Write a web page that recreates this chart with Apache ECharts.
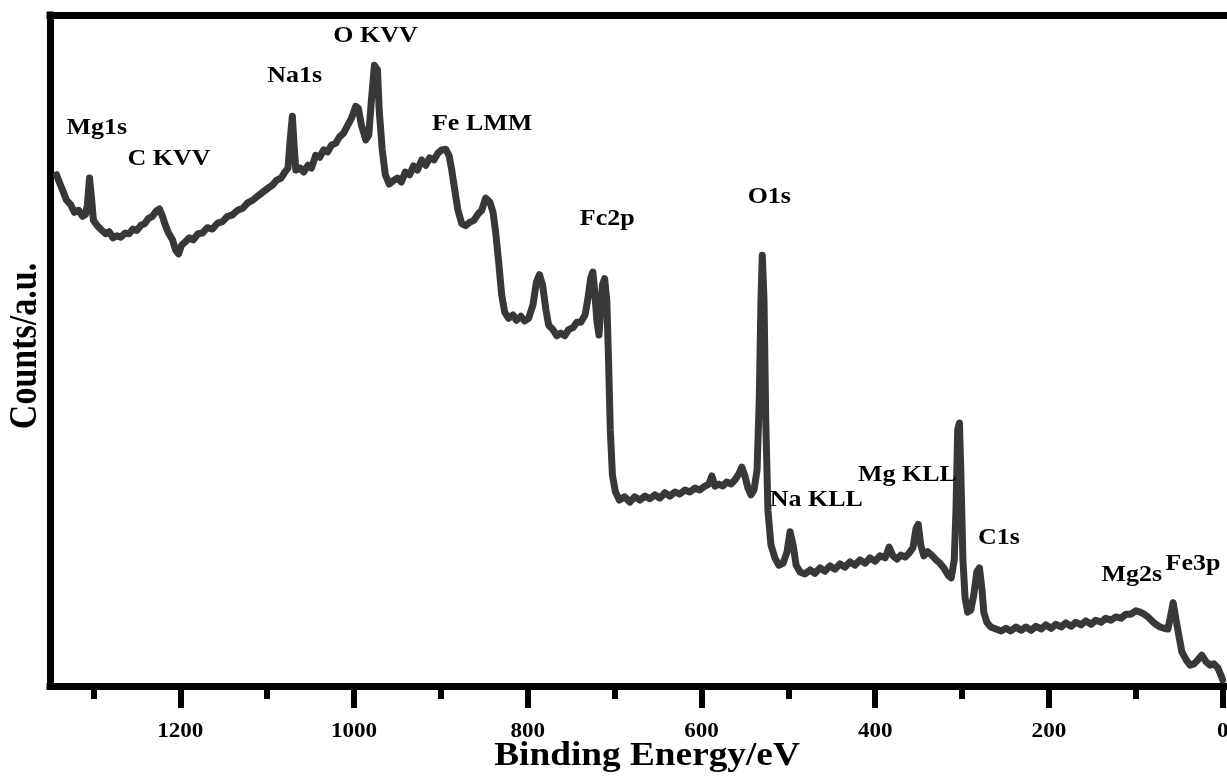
<!DOCTYPE html>
<html>
<head>
<meta charset="utf-8">
<title>XPS survey spectrum</title>
<script src="https://cdn.jsdelivr.net/npm/echarts@6/dist/echarts.min.js"></script>
<style>
  html, body { margin: 0; padding: 0; background: #ffffff; }
  #chart { width: 1227px; height: 778px; }
</style>
</head>
<body>
<div id="chart"></div>
<script>
// Survey spectrum: binding energy (eV) and intensity (arbitrary units)
const energy = [
  1342.5, 1339, 1335.5, 1331, 1326, 1322, 1317, 1312.5, 1309, 1307, 1304.5, 1302, 1300, 1295.5, 1291, 1286,
  1282, 1277.5, 1273, 1268.5, 1263.5, 1259, 1254.5, 1250, 1245, 1241, 1236.5, 1232, 1227.5, 1224, 1220.5,
  1217, 1213.5, 1209, 1205.5, 1202, 1198.5, 1194, 1189.5, 1185, 1179.5, 1174.5, 1169, 1163, 1157, 1151.5,
  1145.5, 1140, 1134, 1128, 1122.5, 1116.5, 1111, 1105, 1099, 1093.5, 1089, 1084, 1079.5, 1076, 1073.5,
  1071, 1069, 1067, 1062, 1058, 1053, 1049, 1044, 1039.5, 1035, 1030.5, 1026, 1021, 1017, 1012, 1007.5,
  1003, 998, 995, 991.5, 986.5, 983, 980, 976.5, 973, 971, 967.5, 964, 959.5, 955, 950, 945.5, 941, 936,
  931.5, 927, 922, 917.5, 913, 908, 903.5, 899, 894.5, 890.5, 887.5, 884, 880.5, 876, 871.5, 867, 862,
  857.5, 853, 848.5, 843.5, 840, 837, 833.5, 830, 826.5, 822, 817, 813, 808, 803.5, 799, 794, 790, 786.5,
  783, 779, 776, 771, 766.5, 762, 757.5, 753, 748, 743.5, 739, 734, 731, 727.5, 725, 723, 720.5, 718, 716,
  714, 711.5, 709, 707, 705, 702.5, 699, 694.5, 688.5, 682.5, 677, 671, 665, 659.5, 653.5, 648, 642,
  636.5, 630.5, 625, 619, 613.5, 607.5, 602, 596, 591.5, 588, 584.5, 580, 575.5, 571, 566, 561.5, 557,
  553.5, 550, 546.5, 543, 539.5, 536, 533.5, 531.5, 530, 528, 526, 523.5, 520, 515.5, 511, 506, 501.5,
  498, 494.5, 491, 486.5, 481, 475, 469.5, 463.5, 458, 452, 446.5, 440.5, 435, 429, 423.5, 417.5, 411.5,
  406, 400, 394.5, 388.5, 384, 379.5, 375, 370.5, 365.5, 361, 356.5, 353, 350.5, 347.5, 344, 339.5, 335,
  330, 325.5, 321, 316, 312.5, 309, 307, 305, 303, 301.5, 299, 296.5, 293.5, 290, 286.5, 283, 280, 277,
  275, 271.5, 267, 261, 255, 249.5, 244, 238, 232, 226.5, 220.5, 215, 209, 203.5, 197.5, 192, 186, 180.5,
  174.5, 169, 163, 157.5, 151.5, 146, 140, 134.5, 128.5, 123, 117, 111.5, 105.5, 100, 95, 90.5, 86, 81.5,
  77, 72, 67.5, 63, 59.5, 57, 54, 50.5, 47, 42, 37.5, 33, 28.5, 24, 19, 14.5, 10, 5.5, 1, 0
];
const counts = [
  76.2, 75.0, 73.9, 72.4, 71.7, 70.6, 70.9, 70.0, 70.3, 71.7, 75.7, 72.4, 69.4, 68.6, 68.0, 67.4,
  67.7, 66.8, 67.1, 66.9, 67.5, 67.4, 68.1, 67.9, 68.7, 68.9, 69.7, 70.0, 70.8, 71.1, 70.0,
  68.6, 67.5, 66.5, 65.0, 64.4, 65.7, 66.2, 66.8, 66.5, 67.4, 67.5, 68.3, 68.1, 69.0, 69.2,
  70.0, 70.2, 70.9, 71.2, 72.0, 72.4, 73.0, 73.6, 74.2, 74.7, 75.4, 75.7, 76.6, 77.2, 81.4,
  84.9, 80.6, 76.9, 77.2, 76.6, 77.6, 77.2, 79.1, 78.8, 79.9, 79.6, 80.6, 80.9, 81.8, 82.4, 83.5,
  84.6, 86.4, 86.1, 83.6, 81.4, 82.1, 87.3, 92.5, 91.8, 85.8, 79.9, 76.2, 74.8, 75.3, 75.7, 75.1, 76.6, 76.2,
  77.5, 76.9, 78.4, 77.6, 78.7, 78.4, 79.4, 79.9, 80.0, 79.0, 76.9, 73.9, 71.0, 68.9, 68.6, 69.1, 69.4,
  70.3, 70.9, 72.7, 72.1, 70.6, 67.7, 63.2, 58.3, 55.7, 54.8, 55.3, 54.5, 55.1, 54.4, 54.8, 56.8, 60.2, 61.3,
  59.8, 56.0, 53.8, 53.1, 52.2, 52.6, 52.2, 53.1, 53.4, 54.2, 54.2, 55.3, 57.5, 60.8, 61.7, 59.0, 54.5, 52.3, 56.0,
  59.8, 60.7, 57.5, 48.6, 38.2, 31.4, 28.9, 27.7, 28.2, 27.4, 28.2, 27.7, 28.3, 27.9, 28.5, 28.0, 28.8,
  28.3, 28.9, 28.6, 29.2, 28.9, 29.5, 29.2, 29.8, 30.1, 31.3, 29.8, 30.1, 29.8, 30.4, 30.1, 30.7, 31.6,
  32.6, 31.3, 29.5, 28.5, 29.2, 32.2, 42.6, 57.5, 64.2, 57.5, 39.6, 26.2, 21.0, 19.1, 18.0, 18.3, 20.0,
  23.0, 21.0, 18.0, 17.0, 16.7, 17.3, 16.8, 17.6, 17.1, 17.9, 17.4, 18.2, 17.7, 18.5, 18.0, 18.8, 18.3,
  19.1, 18.6, 19.4, 19.1, 20.7, 19.4, 18.9, 19.5, 19.2, 19.8, 20.6, 23.5, 24.1, 21.0, 19.4, 20.0, 19.5,
  18.8, 18.3, 17.6, 16.5, 16.1, 18.8, 26.2, 38.2, 39.2, 32.2, 18.8, 13.1, 11.0, 11.3, 13.6, 17.0, 17.6, 14.3,
  11.0, 9.5, 8.8, 8.5, 8.2, 8.6, 8.2, 8.8, 8.3, 8.8, 8.3, 8.9, 8.5, 9.1, 8.6, 9.2, 8.8, 9.4,
  8.9, 9.5, 9.1, 9.7, 9.2, 9.8, 9.5, 10.1, 9.8, 10.3, 10.1, 10.7, 10.7, 11.2, 11.0, 10.7, 10.3, 9.7,
  9.2, 8.8, 8.6, 8.5, 10.7, 12.4, 10.1, 7.6, 5.1, 3.9, 3.1, 3.3, 3.9, 4.6, 3.6, 3.1, 3.3, 2.7, 1.3, 0.9
];

// Axis ticks (eV)
const majorTicks = [0, 200, 400, 600, 800, 1000, 1200];
const minorTicks = [100, 300, 500, 700, 900, 1100, 1300];

// Peak assignments and where their names sit (eV, intensity)
const peakNames  = ['Mg1s', 'C KVV', 'Na1s', 'O KVV', 'Fe LMM', 'Fc2p', 'O1s', 'Na KLL', 'Mg KLL', 'C1s', 'Mg2s', 'Fe3p'];
const peakEnergy = [1296, 1213, 1068.3, 975.2, 852.5, 708.5, 521.9, 467.8, 363, 257.6, 104.5, 34.2];
const peakCounts = [83.1, 78.5, 90.9, 96.9, 83.8, 69.6, 72.8, 27.7, 31.4, 22.0, 16.6, 18.1];

const FONT = '"Liberation Serif", "Times New Roman", Times, serif';
const chart = echarts.init(document.getElementById('chart'), null, { renderer: 'canvas' });

const spectrum = energy.map((e, i) => [e, counts[i]]);

const frameLine = { color: '#000000', width: 7, cap: 'square' };
const baseX = {
  type: 'value', inverse: true, min: -5, max: 1350,
  axisLabel: { show: false }, splitLine: { show: false }
};

chart.setOption({
  animation: false,
  backgroundColor: '#ffffff',
  grid: { left: 50, right: 0, top: 15, bottom: 92, containLabel: false },
  xAxis: [
    Object.assign({}, baseX, {
      position: 'bottom',
      axisLine: { show: true, onZero: false, lineStyle: frameLine },
      axisTick: { show: true, customValues: majorTicks, length: 22, lineStyle: { color: '#000', width: 6 } }
    }),
    Object.assign({}, baseX, {
      position: 'bottom',
      axisLine: { show: false, onZero: false },
      axisTick: { show: true, customValues: minorTicks, length: 13, lineStyle: { color: '#000', width: 6 } }
    }),
    Object.assign({}, baseX, {
      position: 'top',
      axisLine: { show: true, onZero: false, lineStyle: frameLine },
      axisTick: { show: false }
    })
  ],
  yAxis: {
    type: 'value', min: 0, max: 100,
    axisLine: { show: true, onZero: false, lineStyle: frameLine },
    axisTick: { show: false }, axisLabel: { show: false }, splitLine: { show: false }
  },
  series: [{
    type: 'line',
    xAxisIndex: 0, yAxisIndex: 0,
    data: spectrum,
    symbol: 'none', showSymbol: false, silent: true,
    lineStyle: { color: '#383838', width: 7, join: 'round', cap: 'round' }
  }]
});

// Text: tick labels, peak names and axis titles (wide bold serif)
const toPx = (e, c) => chart.convertToPixel({ xAxisIndex: 0, yAxisIndex: 0 }, [e, c]);
const axisY = toPx(0, 0)[1];

function label(text, x, y, size, extra) {
  return Object.assign({
    type: 'text', x: x, y: y, silent: true, z: 10,
    style: {
      text: text, fill: '#000', fontFamily: FONT, fontWeight: 'bold', fontSize: size,
      align: 'center', verticalAlign: 'middle', textAlign: 'center', textVerticalAlign: 'middle'
    }
  }, extra || {});
}

const texts = [];
majorTicks.forEach(v => {
  texts.push(label(String(v), toPx(v, 0)[0], axisY + 46, 21, { scaleX: 1.1 }));
});
peakNames.forEach((name, i) => {
  const p = toPx(peakEnergy[i], peakCounts[i]);
  texts.push(label(name, p[0], p[1], 23, { scaleX: 1.13 }));
});
texts.push(label('Binding Energy/eV', 647, axisY + 70, 33, { scaleX: 1.13 }));
texts.push(label('Counts/a.u.', 26, 346, 34, { rotation: Math.PI / 2, scaleY: 1.15 }));

chart.setOption({ graphic: { elements: texts } });
</script>
</body>
</html>
